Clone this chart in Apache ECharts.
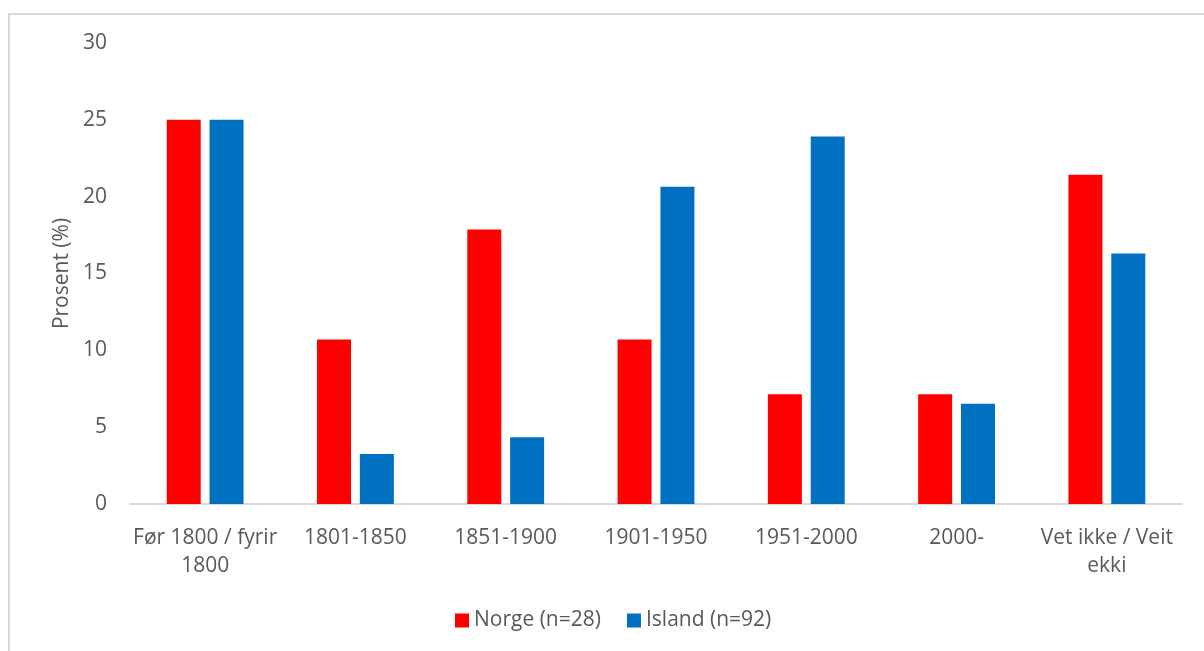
<!DOCTYPE html>
<html>
<head>
<meta charset="utf-8">
<script src="https://cdn.jsdelivr.net/npm/echarts@6/dist/echarts.min.js"></script>
<style>
  html, body { margin: 0; padding: 0; background: #fff; overflow: hidden; }
  #frame { position: absolute; left: 8px; top: 13px; width: 1300px; height: 700px; border-left: 2px solid #d9d9d9; border-top: 2px solid #d9d9d9; }
  #chart { position: absolute; left: 0; top: 0; width: 1204px; height: 651px; }
</style>
</head>
<body>
<div id="frame"></div>
<div id="chart"></div>
<script>
  // perioder
  var categories = ['Før 1800 / fyrir\n1800', '1801-1850', '1851-1900', '1901-1950', '1951-2000', '2000-', 'Vet ikke / Veit\nekki'];
  var norge = [25.0, 10.71, 17.86, 10.71, 7.14, 7.14, 21.43];   // n=28
  var island = [25.0, 3.26, 4.35, 20.65, 23.91, 6.52, 16.30];   // n=92
  var seriesNames = ['Norge (n=28)', 'Island (n=92)'];
  var yTicks = [0, 5, 10, 15, 20, 25, 30];

  var font = 'Open Sans';
  var textColor = '#595959';

  var chart = echarts.init(document.getElementById('chart'));
  var option = {
    animation: false,
    textStyle: { fontFamily: font },
    grid: { left: 130, right: 22, top: 43, bottom: 147 },
    legend: {
      data: seriesNames,
      left: 450,
      top: 605,
      itemWidth: 14,
      itemHeight: 14,
      itemGap: 26,
      icon: 'rect',
      textStyle: { color: textColor, fontSize: 21, fontFamily: font }
    },
    xAxis: {
      type: 'category',
      data: categories,
      axisLine: { lineStyle: { color: '#d9d9d9', width: 2 } },
      axisTick: { show: false },
      axisLabel: { color: textColor, fontSize: 21, lineHeight: 28, margin: 20, interval: 0 }
    },
    yAxis: {
      type: 'value',
      min: yTicks[0],
      max: yTicks[yTicks.length - 1],
      interval: 5,
      name: 'Prosent (%)',
      nameLocation: 'middle',
      nameGap: 56,
      nameTextStyle: { color: textColor, fontSize: 21 },
      axisLine: { show: false },
      axisTick: { show: false },
      splitLine: { show: false },
      axisLabel: { color: textColor, fontSize: 21, margin: 23 }
    },
    series: [
      {
        name: seriesNames[0],
        type: 'bar',
        data: norge,
        barWidth: 34,
        barGap: '26%',
        itemStyle: { color: '#ff0000' }
      },
      {
        name: seriesNames[1],
        type: 'bar',
        data: island,
        barWidth: 34,
        itemStyle: { color: '#0070c0' }
      }
    ]
  };
  chart.setOption(option);
</script>
</body>
</html>
